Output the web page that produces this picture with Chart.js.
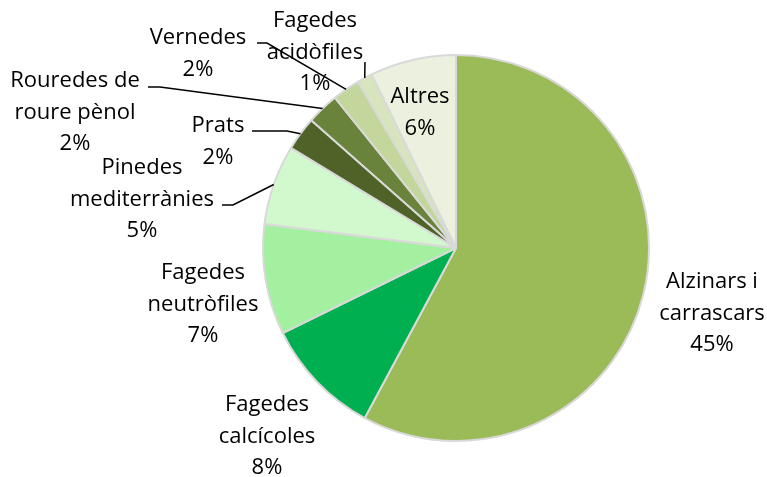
<!DOCTYPE html>
<html>
  <head>
    <title>Hàbitats</title>
    <script src="https://cdn.jsdelivr.net/npm/chart.js"></script>
    <style>
      html, body { margin: 0; padding: 0; background: #fff; }
      #wrap { width: 767px; height: 477px; }
    </style>
  </head>
  <body>
    <div id="wrap"><canvas id="pie" width="767" height="477"></canvas></div>
    <script>
      // categories, clockwise from 12 o'clock
      const categories = [
        ["Alzinars i", "carrascars"],
        ["Fagedes", "calcícoles"],
        ["Fagedes", "neutròfiles"],
        ["Pinedes", "mediterrànies"],
        ["Prats"],
        ["Rouredes de", "roure pènol"],
        ["Vernedes"],
        ["Fagedes", "acidòfiles"],
        ["Altres"],
      ];
      const values = [45.0, 7.7, 7.2, 5.2, 2.2, 2.1, 1.8, 1.0, 5.6];
      const percentLabels = ["45%", "8%", "7%", "5%", "2%", "2%", "2%", "1%", "6%"];
      const colors = [
        "#9BBB59", "#00B050", "#A3F0A0", "#D2F8CE", "#4F6228",
        "#69843A", "#C3D69B", "#D7E4BD", "#EBF1DE",
      ];

      // label centres (first line) and optional leader line start points
      const labelPos = [
        { x: 712, y: 282 },
        { x: 267, y: 405 },
        { x: 203, y: 273 },
        { x: 142, y: 168, lead: [[222, 205], [233, 205]] },
        { x: 218, y: 126, lead: [[252, 131], [287, 131]] },
        { x: 75, y: 81, lead: [[148, 87], [160, 87]] },
        { x: 198, y: 38, lead: [[257, 43], [267, 43]] },
        { x: 315, y: 21, lead: [[365, 62]] },
        { x: 420, y: 97 },
      ];
      const lineGap = 31.5;

      const labelPlugin = {
        id: "pieLabels",
        afterDatasetsDraw(chart) {
          const ctx = chart.ctx;
          const arcs = chart.getDatasetMeta(0).data;
          ctx.save();
          ctx.font = "22px 'Open Sans'";
          ctx.fillStyle = "#000";
          ctx.textAlign = "center";
          ctx.textBaseline = "middle";
          arcs.forEach((arc, i) => {
            const p = labelPos[i];
            const lines = categories[i].concat([percentLabels[i]]);
            lines.forEach((t, k) => ctx.fillText(t, p.x, p.y + k * lineGap));
            if (p.lead) {
              const mid = (arc.startAngle + arc.endAngle) / 2;
              const ex = arc.x + Math.cos(mid) * arc.outerRadius;
              const ey = arc.y + Math.sin(mid) * arc.outerRadius;
              ctx.beginPath();
              ctx.strokeStyle = "#000";
              ctx.lineWidth = 1.5;
              ctx.moveTo(p.lead[0][0], p.lead[0][1]);
              for (let j = 1; j < p.lead.length; j++) ctx.lineTo(p.lead[j][0], p.lead[j][1]);
              ctx.lineTo(ex, ey);
              ctx.stroke();
            }
          });
          ctx.restore();
        },
      };

      new Chart(document.getElementById("pie"), {
        type: "pie",
        data: {
          labels: categories,
          datasets: [
            {
              data: values,
              backgroundColor: colors,
              borderColor: "#D9D9D9",
              borderWidth: 2,
              hoverOffset: 0,
            },
          ],
        },
        options: {
          responsive: false,
          animation: false,
          layout: { padding: { left: 262, right: 117, top: 54, bottom: 35 } },
          plugins: {
            legend: { display: false },
            tooltip: { enabled: false },
          },
        },
        plugins: [labelPlugin],
      });
    </script>
  </body>
</html>
